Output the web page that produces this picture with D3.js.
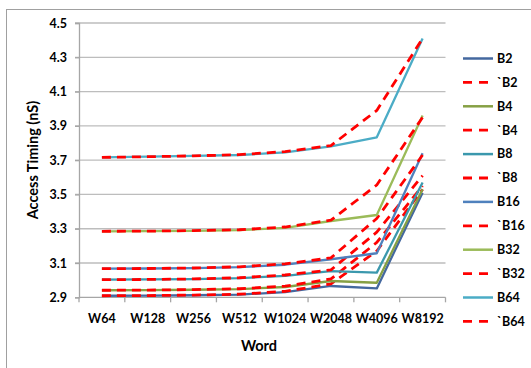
<!DOCTYPE html>
<html>
<head>
<meta charset="utf-8">
<script src="https://cdn.jsdelivr.net/npm/d3@7/dist/d3.min.js"></script>
<style>
  html, body { margin: 0; padding: 0; background: #fff; }
  svg { display: block; font-family: Lato, "Open Sans", sans-serif; }
</style>
</head>
<body>
<svg id="chart" width="531" height="368"></svg>
<script>
// Word sizes on the category axis
const words = ["W64", "W128", "W256", "W512", "W1024", "W2048", "W4096", "W8192"];

// Access timing (nS) per block size; the back-tick series are the alternative design
const B2    = [2.909, 2.910, 2.912, 2.916, 2.930, 2.966, 2.952, 3.510];
const B2b   = [2.909, 2.910, 2.913, 2.918, 2.935, 2.978, 3.170, 3.530];
const B4    = [2.941, 2.942, 2.944, 2.948, 2.960, 2.995, 2.985, 3.530];
const B4b   = [2.941, 2.942, 2.945, 2.950, 2.965, 3.007, 3.220, 3.550];
const B8    = [3.003, 3.004, 3.006, 3.012, 3.025, 3.053, 3.044, 3.570];
const B8b   = [3.003, 3.004, 3.007, 3.014, 3.030, 3.060, 3.280, 3.610];
const B16   = [3.067, 3.068, 3.070, 3.076, 3.090, 3.122, 3.157, 3.740];
const B16b  = [3.067, 3.068, 3.071, 3.078, 3.095, 3.130, 3.360, 3.730];
const B32   = [3.285, 3.286, 3.288, 3.292, 3.305, 3.345, 3.380, 3.960];
const B32b  = [3.285, 3.286, 3.289, 3.294, 3.310, 3.350, 3.555, 3.950];
const B64   = [3.716, 3.720, 3.725, 3.730, 3.745, 3.780, 3.833, 4.410];
const B64b  = [3.716, 3.720, 3.725, 3.732, 3.750, 3.785, 3.990, 4.410];

const seriesNames = ["B2", "`B2", "B4", "`B4", "B8", "`B8", "B16", "`B16", "B32", "`B32", "B64", "`B64"];
const seriesValues = [B2, B2b, B4, B4b, B8, B8b, B16, B16b, B32, B32b, B64, B64b];

const yTicks = [2.9, 3.1, 3.3, 3.5, 3.7, 3.9, 4.1, 4.3, 4.5];

const solidColors = {
  "B2": "#44689f", "B4": "#86a044", "B8": "#3b98ad",
  "B16": "#4f81bd", "B32": "#9bbb59", "B64": "#4bacc6"
};
const dashColor = "#ff0000";

const series = seriesNames.map((name, i) => ({
  name,
  dashed: name.startsWith("`"),
  values: seriesValues[i]
}));

const svg = d3.select("#chart");

// outer chart frame
svg.append("rect")
  .attr("x", 6.5).attr("y", 9.5)
  .attr("width", 540).attr("height", 380)
  .attr("fill", "none").attr("stroke", "#a0a0a0").attr("stroke-width", 1);

const plot = { left: 79, right: 445.5, top: 23, bottom: 297.3 };

const x = d3.scaleBand().domain(words).range([plot.left, plot.right]);
const y = d3.scaleLinear().domain([2.9, 4.5]).range([plot.bottom, plot.top]);

// horizontal gridlines
svg.append("g")
  .selectAll("line")
  .data(yTicks.slice(1))
  .join("line")
  .attr("x1", plot.left - 4).attr("x2", plot.right)
  .attr("y1", d => y(d)).attr("y2", d => y(d))
  .attr("stroke", "#bdbdbd").attr("stroke-width", 1.3);

// y axis
const yAxis = svg.append("g")
  .attr("transform", `translate(${plot.left},0)`)
  .call(d3.axisLeft(y).tickValues(yTicks).tickFormat(d3.format(".1f")).tickSize(4).tickPadding(8));
yAxis.select(".domain").attr("stroke", "#a6a6a6").attr("stroke-width", 1.3);
yAxis.selectAll(".tick line").attr("stroke", "#a6a6a6").attr("stroke-width", 1.3);
yAxis.selectAll(".tick text")
  .attr("fill", "#000").attr("font-size", 12.5).attr("font-weight", "bold")
  .attr("font-family", "Lato, sans-serif");

// x axis with ticks between categories
const xAxis = svg.append("g")
  .attr("transform", `translate(0,${plot.bottom})`)
  .call(d3.axisBottom(x).tickSize(0).tickPadding(17));
xAxis.select(".domain").remove();
xAxis.append("line")
  .attr("x1", plot.left).attr("x2", plot.right)
  .attr("stroke", "#a6a6a6").attr("stroke-width", 1.3);
xAxis.selectAll(".sep")
  .data(d3.range(words.length + 1))
  .join("line")
  .attr("class", "sep")
  .attr("x1", i => plot.left + i * x.step()).attr("x2", i => plot.left + i * x.step())
  .attr("y1", 0).attr("y2", 5)
  .attr("stroke", "#a6a6a6").attr("stroke-width", 1.3);
xAxis.selectAll(".tick text")
  .attr("fill", "#000").attr("font-size", 12.5).attr("font-weight", "bold")
  .attr("font-family", "Lato, sans-serif");

// series lines
const line = d3.line()
  .x((d, i) => x(words[i]) + x.bandwidth() / 2)
  .y(d => y(d));

svg.append("g")
  .selectAll("path")
  .data(series)
  .join("path")
  .attr("d", d => line(d.values))
  .attr("fill", "none")
  .attr("stroke", d => d.dashed ? dashColor : solidColors[d.name])
  .attr("stroke-width", d => d.dashed ? 2.8 : 2.3)
  .attr("stroke-dasharray", d => d.dashed ? "9,6" : null)
  .attr("stroke-linejoin", "round");

// axis titles
svg.append("text")
  .attr("x", 259).attr("y", 351)
  .attr("text-anchor", "middle")
  .attr("font-size", 14.5).attr("font-weight", "bold")
  .text("Word");

svg.append("text")
  .attr("transform", "translate(38,160) rotate(-90)")
  .attr("text-anchor", "middle")
  .attr("font-size", 14.5).attr("font-weight", "bold")
  .text("Access Timing (nS)");

// legend
const legend = svg.append("g");
const rows = legend.selectAll("g")
  .data(series)
  .join("g")
  .attr("transform", (d, i) => `translate(463,${58.5 + i * 23.9})`);
rows.append("line")
  .attr("x1", 0).attr("x2", 30)
  .attr("stroke", d => d.dashed ? dashColor : solidColors[d.name])
  .attr("stroke-width", d => d.dashed ? 2.8 : 2.5)
  .attr("stroke-dasharray", d => d.dashed ? "9,7" : null);
rows.append("text")
  .attr("x", 34).attr("dy", "0.35em")
  .attr("font-size", 12.5).attr("font-weight", "bold")
  .text(d => d.name);
</script>
</body>
</html>
